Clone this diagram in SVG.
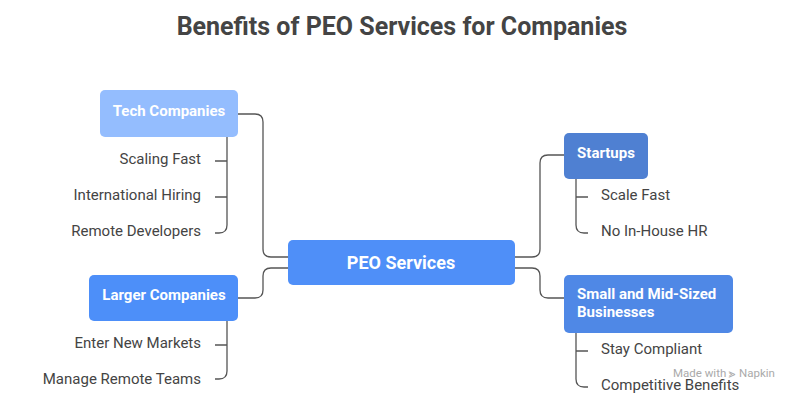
<svg xmlns="http://www.w3.org/2000/svg" width="807" height="402" viewBox="0 0 807 402">
<style>
.t{font-family:Roboto,"Liberation Sans",sans-serif}
.h{font-weight:bold;fill:#fff;font-size:15px}
.c{fill:#444;font-size:15px}
.ln{fill:none;stroke:#555;stroke-width:1.3}
</style>
<rect width="807" height="402" fill="#fff"/>
<text class="t" x="402" y="35" text-anchor="middle" style="font-size:25px;font-weight:bold" fill="#444">Benefits of PEO Services for Companies</text>
<g id="connectors" class="ln">
<path d="M238 114 H255 Q263 114 263 122 V249 Q263 257 271 257 H288"/>
<path d="M238 298 H255 Q263 298 263 290 V276 Q263 268 271 268 H288"/>
<path d="M515 257 H532 Q540 257 540 249 V163 Q540 155 548 155 H564"/>
<path d="M515 268 H532 Q540 268 540 276 V290 Q540 298 548 298 H564"/>
<path d="M227 137 V225 Q227 233 219 233 H215 M215 161 H227 M215 197 H227"/>
<path d="M227 321 V371 Q227 379 219 379 H215 M215 345 H227"/>
<path d="M576 179 V225 Q576 233 584 233 H588 M576 197 H588"/>
<path d="M576 333 V379 Q576 387 584 387 H588 M576 351 H588"/>
</g>
<g id="peo"><rect x="288" y="240" width="227" height="45" rx="5" fill="#4F8FF8"/><text class="t h" x="401" y="269" text-anchor="middle" style="font-size:18px">PEO Services</text></g>
<g id="tech"><rect x="100" y="90" width="138" height="47" rx="5" fill="#94BDFE"/><text class="t h" x="169" y="116" text-anchor="middle">Tech Companies</text></g>
<g id="larger"><rect x="89" y="275" width="149" height="46" rx="5" fill="#4D8FF9"/><text class="t h" x="164" y="300" text-anchor="middle">Larger Companies</text></g>
<g id="startups"><rect x="564" y="133" width="84" height="46" rx="5" fill="#4F80D2"/><text class="t h" x="606" y="158" text-anchor="middle">Startups</text></g>
<g id="smb"><rect x="564" y="275" width="169" height="58" rx="5" fill="#4F88E6"/><text class="t h" x="577" y="299">Small and Mid-Sized</text><text class="t h" x="577" y="317">Businesses</text></g>
<g id="tech-items" class="t c" text-anchor="end">
<text x="201" y="164">Scaling Fast</text><text x="201" y="200">International Hiring</text><text x="201" y="236">Remote Developers</text></g>
<g id="larger-items" class="t c" text-anchor="end">
<text x="201" y="348">Enter New Markets</text><text x="201" y="384">Manage Remote Teams</text></g>
<g id="startup-items" class="t c">
<text x="601" y="200">Scale Fast</text><text x="601" y="236">No In-House HR</text></g>
<g id="smb-items" class="t c">
<text x="601" y="354">Stay Compliant</text><text x="601" y="390">Competitive Benefits</text></g>
<text class="t" x="673" y="377" font-size="11.5" fill="#aaa">Made with ⪢ Napkin</text>
</svg>
